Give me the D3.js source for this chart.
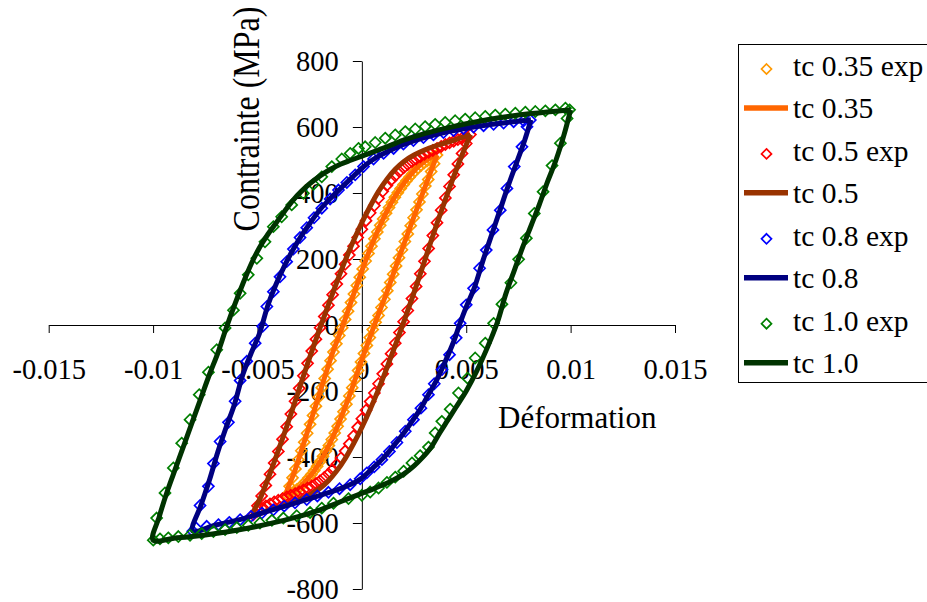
<!DOCTYPE html>
<html>
<head>
<meta charset="utf-8">
<script src="https://cdn.jsdelivr.net/npm/d3@7"></script>
<style>
  body { margin: 0; background: #fff; }
  svg { display: block; }
  svg text { font-family: "Liberation Serif", "Times New Roman", Times, serif; fill: #000; }
</style>
</head>
<body>
<svg id="chart" width="927" height="602"></svg>
<script>
// ---------------- data ----------------
const strainTicks = [-0.015, -0.01, -0.005, 0, 0.005, 0.01, 0.015];
const strainTickLabels = ["-0.015", "-0.01", "-0.005", "0", "0.005", "0.01", "0.015"];
const stressTicks = [-800, -600, -400, -200, 0, 200, 400, 600, 800];
const stressTickLabels = ["-800", "-600", "-400", "-200", "0", "200", "400", "600", "800"];
const seriesNames = ["tc 0.35 exp", "tc 0.35", "tc 0.5 exp", "tc 0.5", "tc 0.8 exp", "tc 0.8", "tc 1.0 exp", "tc 1.0"];

// [strain, stress (MPa)]
const tc035Exp = [
  [0.00360,515],[0.00346,489],[0.00332,465],[0.00318,441],[0.00304,421],[0.00290,397],[0.00276,373],[0.00262,349],
  [0.00248,325],[0.00234,301],[0.00220,276],[0.00206,253],[0.00192,228],[0.00178,204],[0.00164,179],[0.00150,154],
  [0.00136,129],[0.00122,104],[0.00108,78],[0.00094,53],[0.00080,29],[0.00066,8],[0.00052,-14],[0.00038,-38],
  [0.00024,-62],[0.00010,-86],[-0.00004,-112],[-0.00018,-138],[-0.00032,-165],[-0.00046,-190],[-0.00060,-215],
  [-0.00074,-240],[-0.00088,-263],[-0.00102,-285],[-0.00116,-307],[-0.00130,-327],[-0.00144,-347],[-0.00158,-365],
  [-0.00172,-382],[-0.00186,-398],[-0.00200,-414],[-0.00214,-428],[-0.00228,-441],[-0.00242,-453],[-0.00256,-464],
  [-0.00270,-474],[-0.00284,-484],[-0.00298,-492],[-0.00312,-499],[-0.00326,-505],[-0.00340,-510],[-0.00360,-515],
  [-0.00346,-489],[-0.00332,-463],[-0.00318,-436],[-0.00304,-408],[-0.00290,-381],[-0.00276,-355],[-0.00262,-328],
  [-0.00248,-301],[-0.00234,-274],[-0.00220,-246],[-0.00206,-218],[-0.00192,-190],[-0.00178,-162],[-0.00164,-134],
  [-0.00150,-108],[-0.00136,-82],[-0.00122,-57],[-0.00108,-32],[-0.00094,-8],[-0.00080,17],[-0.00066,42],
  [-0.00052,68],[-0.00038,94],[-0.00024,120],[-0.00010,145],[0.00004,170],[0.00018,194],[0.00032,217],
  [0.00046,239],[0.00060,261],[0.00074,282],[0.00088,302],[0.00102,321],[0.00116,339],[0.00130,356],[0.00144,372],
  [0.00158,387],[0.00172,401],[0.00186,414],[0.00200,426],[0.00214,437],[0.00228,448],[0.00242,458],[0.00256,467],
  [0.00270,476],[0.00284,484],[0.00298,491],[0.00312,497],[0.00326,503],[0.00340,509]
];
const tc035Sim = [
  [0.0036,515],[0.0030,414],[0.0024,312],[0.0018,208],[0.0012,100],[0.0006,0],[0,-105],[-0.0006,-215],
  [-0.0012,-312],[-0.0018,-392],[-0.0024,-452],[-0.0030,-492],[-0.0036,-515],
  [-0.0032,-440],[-0.0026,-322],[-0.0020,-202],[-0.0014,-84],[-0.0009,0],[-0.0003,110],[0.0003,215],
  [0.0009,305],[0.0015,380],[0.0021,437],[0.0027,480],[0.0033,508],[0.0036,515]
];
const tc05Exp = [
  [0.0052,577],[0.0050,550],[0.0048,520],[0.0046,488],[0.0044,455],[0.0042,420],[0.0040,385],[0.0038,348],
  [0.0036,310],[0.0034,271],[0.0032,232],[0.0030,193],[0.0028,155],[0.0026,117],[0.0024,80],[0.0022,44],
  [0.0020,10],[0.0018,-23],[0.0016,-55],[0.0014,-87],[0.0012,-118],[0.0010,-148],[0.0008,-178],[0.0006,-206],
  [0.0004,-232],[0.0002,-258],[0,-284],[-0.0002,-310],[-0.0004,-336],[-0.0006,-360],[-0.0008,-382],[-0.0010,-403],
  [-0.0012,-422],[-0.0014,-438],[-0.0016,-451],[-0.0018,-462],[-0.0020,-472],[-0.0022,-480],[-0.0024,-488],
  [-0.0026,-494],[-0.0028,-500],[-0.0030,-506],[-0.0032,-511],[-0.0034,-516],[-0.0036,-521],[-0.0038,-526],
  [-0.0040,-531],[-0.0042,-536],[-0.0044,-542],[-0.0046,-548],[-0.0048,-555],[-0.0050,-563],[-0.0052,-575],
  [-0.0050,-548],[-0.0048,-518],[-0.0046,-486],[-0.0044,-452],[-0.0042,-418],[-0.0040,-383],[-0.0038,-346],
  [-0.0036,-308],[-0.0034,-270],[-0.0032,-231],[-0.0030,-192],[-0.0028,-154],[-0.0026,-116],[-0.0024,-79],
  [-0.0022,-43],[-0.0020,-8],[-0.0018,26],[-0.0016,60],[-0.0014,92],[-0.0012,124],[-0.0010,155],[-0.0008,184],
  [-0.0006,212],[-0.0004,239],[-0.0002,265],[0,290],[0.0002,316],[0.0004,340],[0.0006,362],[0.0008,384],
  [0.0010,405],[0.0012,423],[0.0014,439],[0.0016,452],[0.0018,465],[0.0020,476],[0.0022,486],[0.0024,495],
  [0.0026,503],[0.0028,510],[0.0030,517],[0.0032,523],[0.0034,529],[0.0036,535],[0.0038,541],[0.0040,547],
  [0.0042,552],[0.0044,557],[0.0046,562],[0.0048,566],[0.0050,571]
];
const tc05Sim = [
  [0.0052,577],[0.0048,515],[0.0044,450],[0.0040,380],[0.0036,308],[0.0032,232],[0.0028,155],[0.0024,80],
  [0.0020,8],[0.0016,-62],[0.0012,-130],[0.0008,-195],[0.0004,-255],[0,-310],[-0.0004,-360],[-0.0008,-405],
  [-0.0012,-442],[-0.0016,-472],[-0.0020,-495],[-0.0025,-515],[-0.0030,-530],[-0.0035,-542],[-0.0040,-552],
  [-0.0045,-562],[-0.0052,-577],
  [-0.0048,-515],[-0.0044,-450],[-0.0040,-380],[-0.0036,-308],[-0.0032,-232],[-0.0028,-155],[-0.0024,-80],
  [-0.0020,-8],[-0.0016,62],[-0.0012,130],[-0.0008,195],[-0.0004,255],[0,310],[0.0004,360],[0.0008,405],
  [0.0012,442],[0.0016,472],[0.0020,495],[0.0025,515],[0.0030,530],[0.0035,542],[0.0040,552],[0.0045,562],
  [0.0052,577]
];
const tc08Exp = [
  [0.00807,621],[0.00791,601],[0.00767,540],[0.00730,480],[0.00695,414],[0.00663,348],[0.00628,288],[0.00596,227],
  [0.00564,172],[0.00535,111],[0.00500,61],[0.00471,5],[0.00452,-39],[0.00420,-90],[0.00384,-135],[0.00347,-178],
  [0.00319,-211],[0.00283,-252],[0.00247,-287],[0.00208,-322],[0.00168,-356],[0.00132,-383],[0.00096,-408],
  [0.00059,-430],[0.00024,-448],[-0.00008,-466],[-0.00056,-484],[-0.00107,-496],[-0.00160,-507],[-0.00213,-518],
  [-0.00264,-529],[-0.00320,-539],[-0.00372,-549],[-0.00424,-560],[-0.00479,-570],[-0.00531,-580],[-0.00583,-590],
  [-0.00635,-598],[-0.00687,-605],[-0.00743,-610],[-0.00794,-615],[-0.00810,-625],
  [-0.00775,-547],[-0.00735,-489],[-0.00711,-420],[-0.00679,-353],[-0.00639,-295],[-0.00607,-231],[-0.00583,-168],
  [-0.00551,-110],[-0.00511,-55],[-0.00475,-4],[-0.00455,56],[-0.00424,101],[-0.00392,146],[-0.00360,192],
  [-0.00328,230],[-0.00296,265],[-0.00264,295],[-0.00229,325],[-0.00192,354],[-0.00152,382],[-0.00112,409],
  [-0.00072,432],[-0.00032,455],[0.00008,480],[0.00056,503],[0.00104,520],[0.00152,535],[0.00199,548],
  [0.00247,559],[0.00295,568],[0.00343,576],[0.00391,583],[0.00439,589],[0.00487,595],[0.00535,600],
  [0.00583,604],[0.00631,608],[0.00679,612],[0.00727,616],[0.00775,619]
];
const tc08Sim = [
  [0.0081,622],[0.0078,560],[0.0074,490],[0.0070,420],[0.0066,345],[0.0062,270],[0.0058,195],[0.0054,115],
  [0.0050,55],[0.0047,5],[0.0044,-50],[0.0040,-110],[0.0036,-165],[0.0032,-210],[0.0028,-255],[0.0024,-292],
  [0.0020,-328],[0.0015,-368],[0.0010,-405],[0.0005,-435],[0,-464],[-0.0005,-482],[-0.0010,-495],[-0.0020,-516],
  [-0.0030,-536],[-0.0040,-555],[-0.0050,-574],[-0.0060,-592],[-0.0070,-606],[-0.0081,-624],
  [-0.0077,-545],[-0.0073,-470],[-0.0069,-385],[-0.0065,-310],[-0.0061,-240],[-0.0057,-150],[-0.0053,-85],
  [-0.0049,-25],[-0.0045,60],[-0.0041,125],[-0.0037,180],[-0.0033,228],[-0.0029,270],[-0.0025,307],[-0.0020,350],
  [-0.0015,384],[-0.0010,415],[-0.0005,445],[0,475],[0.0005,500],[0.0010,518],[0.0020,547],[0.0030,568],
  [0.0040,584],[0.0050,596],[0.0060,606],[0.0070,614],[0.0081,622]
];
const tc10Exp = [
  [0.00995,652],[0.00983,626],[0.00951,551],[0.00911,483],[0.00868,404],[0.00826,338],[0.00788,263],[0.00751,199],
  [0.00714,128],[0.00671,63],[0.00631,5],[0.00591,-55],[0.00543,-100],[0.00506,-161],[0.00463,-206],[0.00423,-255],
  [0.00383,-292],[0.00351,-327],[0.00319,-370],[0.00279,-396],[0.00240,-418],[0.00200,-443],[0.00160,-461],
  [0.00120,-477],[0.00080,-494],[0.00040,-506],[0.00000,-516],[-0.00064,-526],[-0.00136,-540],[-0.00192,-555],
  [-0.00248,-568],[-0.00312,-578],[-0.00376,-585],[-0.00431,-592],[-0.00488,-600],[-0.00544,-607],[-0.00599,-614],
  [-0.00655,-620],[-0.00711,-626],[-0.00767,-632],[-0.00823,-637],[-0.00879,-641],[-0.00927,-645],[-0.00967,-648],
  [-0.00999,-652],
  [-0.00983,-585],[-0.00943,-509],[-0.00903,-433],[-0.00863,-358],[-0.00823,-287],[-0.00779,-211],[-0.00735,-143],
  [-0.00695,-75],[-0.00655,-9],[-0.00615,45],[-0.00583,96],[-0.00544,152],[-0.00503,202],[-0.00464,252],
  [-0.00424,298],[-0.00384,328],[-0.00336,364],[-0.00280,399],[-0.00232,426],[-0.00192,449],[-0.00144,480],
  [-0.00096,503],[-0.00056,520],[-0.00016,535],[0.00016,540],[0.00064,553],[0.00112,566],[0.00160,576],
  [0.00208,586],[0.00256,594],[0.00303,601],[0.00351,608],[0.00399,614],[0.00447,619],[0.00495,624],[0.00543,628],
  [0.00591,632],[0.00639,636],[0.00687,639],[0.00735,642],[0.00783,645],[0.00831,647],[0.00879,649],[0.00927,652],
  [0.00975,657]
];
const tc10Sim = [
  [0.0100,652],[0.0097,580],[0.0093,500],[0.0089,435],[0.0085,365],[0.0081,300],[0.0077,235],[0.0073,165],
  [0.0069,95],[0.0065,10],[0.0060,-70],[0.0055,-140],[0.0050,-200],[0.0045,-250],[0.0041,-290],[0.0037,-330],
  [0.0033,-372],[0.0029,-402],[0.0025,-427],[0.0020,-452],[0.0015,-470],[0.0010,-485],[0.0005,-498],[0,-510],
  [-0.0010,-535],[-0.0020,-560],[-0.0030,-580],[-0.0040,-596],[-0.0050,-610],[-0.0060,-622],[-0.0070,-632],
  [-0.0080,-640],[-0.0090,-646],[-0.0100,-652],
  [-0.0097,-580],[-0.0093,-500],[-0.0089,-430],[-0.0085,-360],[-0.0081,-290],[-0.0077,-220],[-0.0073,-150],
  [-0.0069,-85],[-0.0065,-10],[-0.0061,60],[-0.0057,125],[-0.0053,185],[-0.0049,235],[-0.0045,275],[-0.0041,310],
  [-0.0037,345],[-0.0033,378],[-0.0029,405],[-0.0025,428],[-0.0020,452],[-0.0015,472],[-0.0010,488],[-0.0005,500],
  [0,512],[0.0010,535],[0.0020,560],[0.0030,580],[0.0040,596],[0.0050,610],[0.0060,622],[0.0070,632],
  [0.0080,640],[0.0090,646],[0.0100,652]
];

// ---------------- styling ----------------
const FONT = "'Liberation Serif','Times New Roman',Times,serif";
const seriesStyle = [
  { data: tc035Exp, kind: "marker", color: "#FF9900" },
  { data: tc035Sim, kind: "line",   color: "#FF6600" },
  { data: tc05Exp,  kind: "marker", color: "#FF0000" },
  { data: tc05Sim,  kind: "line",   color: "#993300" },
  { data: tc08Exp,  kind: "marker", color: "#0000FF" },
  { data: tc08Sim,  kind: "line",   color: "#000080" },
  { data: tc10Exp,  kind: "marker", color: "#008000" },
  { data: tc10Sim,  kind: "line",   color: "#003300" }
];

const svg = d3.select("#chart");
svg.append("rect").attr("width", 927).attr("height", 602).attr("fill", "#fff");

const x = d3.scaleLinear().domain([-0.015, 0.015]).range([48.7, 675]);
const y = d3.scaleLinear().domain([-800, 800]).range([589, 61]);

// x axis (crosses at stress 0)
const gx = svg.append("g")
  .attr("transform", `translate(0,${y(0)})`)
  .call(d3.axisBottom(x).tickValues(strainTicks)
    .tickFormat((d, i) => strainTickLabels[i]).tickSize(8).tickSizeOuter(0));
gx.attr("font-family", FONT).attr("font-size", 28.5);
gx.selectAll("text").attr("y", 54).attr("dy", 0)
  .style("font-family", FONT).style("font-size", "28.5px");
gx.selectAll("line, path").attr("stroke", "#000");

// y axis (crosses at strain 0)
const gy = svg.append("g")
  .attr("transform", `translate(${x(0)},0)`)
  .call(d3.axisLeft(y).tickValues(stressTicks)
    .tickFormat((d, i) => stressTickLabels[i]).tickSize(9).tickPadding(14).tickSizeOuter(0));
gy.attr("font-family", FONT).attr("font-size", 28.5);
gy.selectAll("text").attr("dy", "0.34em")
  .style("font-family", FONT).style("font-size", "28.5px");
gy.selectAll("line, path").attr("stroke", "#000");

// axis titles
svg.append("text")
  .attr("x", 498).attr("y", 428)
  .style("font-family", FONT).style("font-size", "31px")
  .text("Déformation");
svg.append("text")
  .attr("transform", "translate(259,119) rotate(-90) scale(1,1.18)")
  .attr("text-anchor", "middle")
  .style("font-family", FONT).style("font-size", "32px")
  .text("Contrainte (MPa)");

// data
const diamond = r => `M0,${-r}L${r},0L0,${r}L${-r},0Z`;
const lineGen = d3.line().x(d => x(d[0])).y(d => y(d[1])).curve(d3.curveCatmullRom.alpha(0.5));
const plot = svg.append("g");
seriesStyle.forEach(s => {
  if (s.kind === "marker") {
    plot.append("g").selectAll("path").data(s.data).join("path")
      .attr("d", diamond(5.5))
      .attr("transform", d => `translate(${x(d[0])},${y(d[1])})`)
      .attr("fill", "none").attr("stroke", s.color).attr("stroke-width", 1.7);
  } else {
    plot.append("path").datum(s.data)
      .attr("d", lineGen)
      .attr("fill", "none").attr("stroke", s.color).attr("stroke-width", 5)
      .attr("stroke-linejoin", "round");
  }
});

// legend
const lg = svg.append("g");
lg.append("rect").attr("x", 738.5).attr("y", 44.5).attr("width", 220).attr("height", 338)
  .attr("fill", "#fff").attr("stroke", "#000").attr("stroke-width", 1);
seriesStyle.forEach((s, i) => {
  const base = 76 + i * 42.45;
  if (s.kind === "marker") {
    lg.append("path").attr("d", diamond(5))
      .attr("transform", `translate(766.5,${base - 7})`)
      .attr("fill", "none").attr("stroke", s.color).attr("stroke-width", 1.7);
  } else {
    lg.append("line").attr("x1", 744).attr("x2", 788)
      .attr("y1", base - 10.5).attr("y2", base - 10.5)
      .attr("stroke", s.color).attr("stroke-width", 5.5);
  }
  lg.append("text").attr("x", 793).attr("y", base)
    .style("font-family", FONT).style("font-size", "29.5px")
    .text(seriesNames[i]);
});
</script>
</body>
</html>
